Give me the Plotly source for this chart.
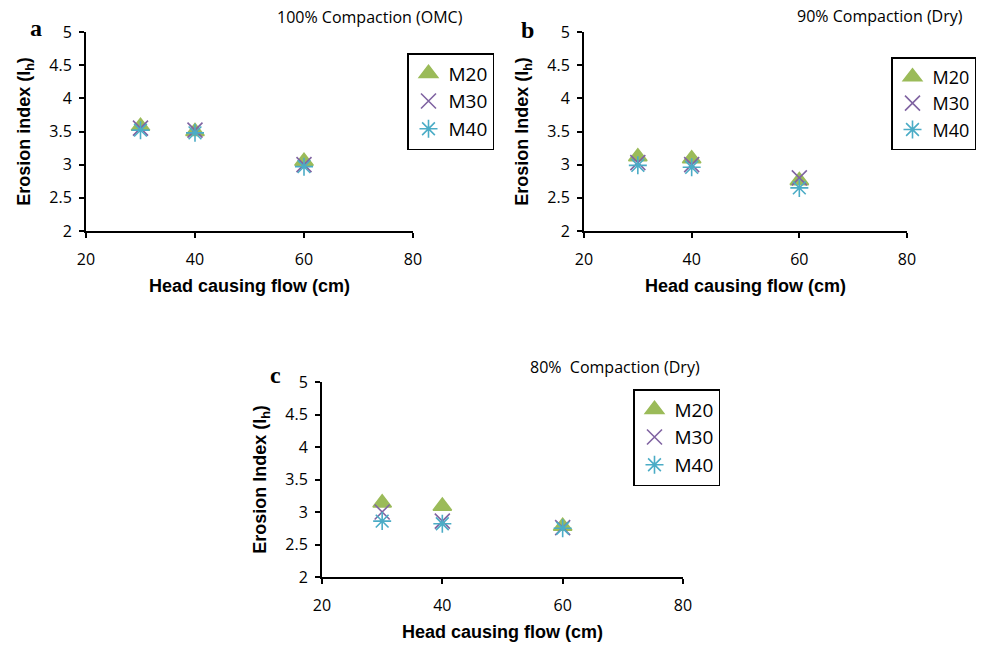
import plotly.graph_objects as go

head = [30, 40, 60]
series_names = ["M20", "M30", "M40"]

a_M20 = [3.58, 3.50, 3.05]
a_M30 = [3.55, 3.52, 3.00]
a_M40 = [3.52, 3.48, 2.97]

b_M20 = [3.12, 3.09, 2.76]
b_M30 = [3.03, 3.00, 2.80]
b_M40 = [2.99, 2.96, 2.65]

c_M20 = [3.14, 3.09, 2.78]
c_M30 = [3.00, 2.86, 2.76]
c_M40 = [2.86, 2.82, 2.75]

panel_titles = ["100% Compaction (OMC)", "90% Compaction (Dry)", "80%  Compaction (Dry)"]
panel_letters = ["a", "b", "c"]
y_titles = ["Erosion index (I<sub>h</sub>)", "Erosion Index (I<sub>h</sub>)", "Erosion Index (I<sub>h</sub>)"]
x_title = "Head causing flow (cm)"
x_ticks = [20, 40, 60, 80]
y_ticks = [2, 2.5, 3, 3.5, 4, 4.5, 5]

W, H = 981, 648
colors = ["#9BBB59", "#8064A2", "#4BACC6"]
symbols = ["triangle-up", "x-thin-open", "asterisk-open"]
sizes = [16, 15, 15]

panels = [
    dict(data=[a_M20, a_M30, a_M40], px=(86, 413), py=(32, 231),
         legend=dict(x=407, y=53, anchor="left", size=19),
         title_right=465, title_y=17, letter=(36, 28)),
    dict(data=[b_M20, b_M30, b_M40], px=(584, 907), py=(32, 231),
         legend=dict(x=976, y=57, anchor="right", size=18),
         title_right=965, title_y=16, letter=(527, 30)),
    dict(data=[c_M20, c_M30, c_M40], px=(322, 683), py=(382, 577),
         legend=dict(x=633, y=389, anchor="left", size=19),
         title_right=702, title_y=367, letter=(275, 375)),
]

fig = go.Figure()
layout = dict(
    width=W, height=H, margin=dict(l=0, r=0, t=0, b=0, autoexpand=False),
    plot_bgcolor="white", paper_bgcolor="white",
    font=dict(family="Open Sans, Liberation Sans, Arial", color="black"),
)
annotations = []
tickfont = dict(family="Open Sans, Liberation Sans", size=16, color="black")
titlefont = dict(family="Liberation Sans, Arial", size=18, color="black", weight="bold")

for i, p in enumerate(panels):
    n = "" if i == 0 else str(i + 1)
    xa, ya = "x" + n, "y" + n
    leg = "legend" + n
    for s in range(3):
        fig.add_trace(go.Scatter(
            x=head, y=p["data"][s], mode="markers", name=series_names[s],
            xaxis=xa, yaxis=ya, legend=leg,
            marker=dict(symbol=symbols[s], size=sizes[s], color=colors[s],
                        line=dict(color=colors[s], width=1.6)),
        ))
    x0, x1 = p["px"]
    y0, y1 = p["py"]
    layout["xaxis" + n] = dict(
        domain=[x0 / W, x1 / W], anchor=ya, range=[20, 80], tickvals=x_ticks,
        showgrid=False, zeroline=False, showline=True, linecolor="black", linewidth=2,
        ticks="outside", ticklen=5, tickwidth=1.5, tickcolor="black",
        tickfont=tickfont, ticklabelstandoff=8, automargin=False,
        title=dict(text=x_title, font=titlefont, standoff=10),
    )
    layout["yaxis" + n] = dict(
        domain=[1 - y1 / H, 1 - y0 / H], anchor=xa, range=[2, 5], tickvals=y_ticks,
        showgrid=False, zeroline=False, showline=True, linecolor="black", linewidth=2,
        ticks="outside", ticklen=5, tickwidth=1.5, tickcolor="black",
        tickfont=tickfont, ticklabelstandoff=4, automargin=False,
        title=dict(text=y_titles[i], font=titlefont, standoff=14),
    )
    lg = p["legend"]
    layout[leg] = dict(
        x=lg["x"] / W, y=1 - lg["y"] / H, xanchor=lg["anchor"], yanchor="top",
        bordercolor="black", borderwidth=1.5, bgcolor="white",
        font=dict(family="Open Sans, Liberation Sans", size=lg["size"], color="black"),
        itemwidth=30, tracegroupgap=0,
    )
    annotations.append(dict(
        text=panel_titles[i], xref="paper", yref="paper",
        x=p["title_right"] / W, y=1 - p["title_y"] / H, xanchor="right", yanchor="middle",
        showarrow=False, font=dict(family="Open Sans, Liberation Sans", size=16, color="black"),
    ))
    lxx, lyy = p["letter"]
    annotations.append(dict(
        text="<b>%s</b>" % panel_letters[i], xref="paper", yref="paper",
        x=lxx / W, y=1 - lyy / H, xanchor="center", yanchor="middle",
        showarrow=False, font=dict(family="Liberation Serif, serif", size=24, color="black"),
    ))

layout["annotations"] = annotations
fig.update_layout(**layout)
fig.write_html("out.html")
